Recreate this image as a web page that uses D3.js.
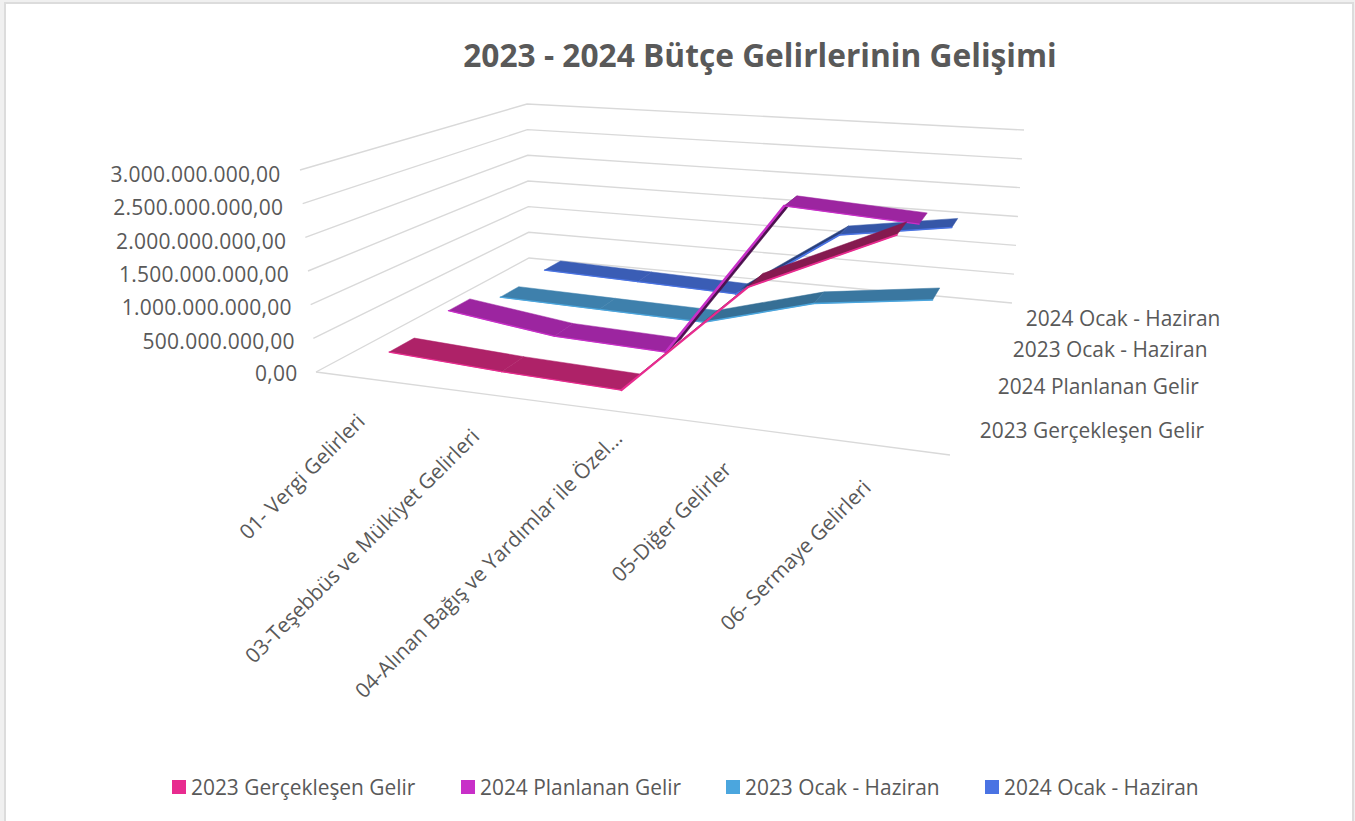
<!DOCTYPE html>
<html><head><meta charset="utf-8">
<script src="https://cdn.jsdelivr.net/npm/d3@7/dist/d3.min.js"></script>
<style>html,body{margin:0;padding:0;background:#fff;overflow:hidden}svg{display:block}text{font-family:"Open Sans",sans-serif;fill:#595959}</style>
</head><body><svg id="c" width="1355" height="821"></svg>
<script>
const chartTitle = "2023 - 2024 Bütçe Gelirlerinin Gelişimi";
const categories = ["01- Vergi Gelirleri","03-Teşebbüs ve Mülkiyet Gelirleri","04-Alınan Bağış ve Yardımlar ile Özel...","05-Diğer Gelirler","06- Sermaye Gelirleri"];
const seriesNames = ["2023 Gerçekleşen Gelir","2024 Planlanan Gelir","2023 Ocak - Haziran","2024 Ocak - Haziran"];
const actual2023 = [235e6,150e6,100e6,1760e6,2670e6];
const planned2024 = [365e6,145e6,95e6,2490e6,2380e6];
const janJun2023 = [113e6,80e6,50e6,537e6,775e6];
const janJun2024 = [147e6,100e6,50e6,1235e6,1510e6];
const seriesValues = [actual2023,planned2024,janJun2023,janJun2024];
const valueTicks = [0,5e8,1e9,1.5e9,2e9,2.5e9,3e9];
const tickLabels = ["0,00","500.000.000,00","1.000.000.000,00","1.500.000.000,00","2.000.000.000,00","2.500.000.000,00","3.000.000.000,00"];
const legendColors = ["#E82B8F","#C82FC8","#4BA6DE","#4A73E3"];
const faceColors = ["#AE2268","#9C25A0","#3E80AC","#3A5DB5"];

const svg = d3.select("#c");
// page frame
svg.append("rect").attr("width",1355).attr("height",821).attr("fill","#f0f0f0");
svg.append("rect").attr("x",5).attr("y",3).attr("width",1348).attr("height",830).attr("fill","#fff").attr("stroke","#dcdcdc").attr("stroke-width",2);

// scales in model space
const xScale = d3.scalePoint(categories,[0,1]).padding(0.5);
const zScale = d3.scalePoint(seriesNames,[0,1]).padding(0.5);
const vScale = d3.scaleLinear([0,3e9],[0,1]);
const ribbonHalf = 0.05;

function homography(p){ // unit square -> quad (u,z): (0,0),(1,0),(1,1),(0,1)
  const [p0,p1,p2,p3]=p;
  const sx=p0[0]-p1[0]+p2[0]-p3[0], sy=p0[1]-p1[1]+p2[1]-p3[1];
  const dx1=p1[0]-p2[0], dx2=p3[0]-p2[0], dy1=p1[1]-p2[1], dy2=p3[1]-p2[1];
  const den=dx1*dy2-dx2*dy1;
  const g=(sx*dy2-dx2*sy)/den, h=(dx1*sy-sx*dy1)/den;
  const a=p1[0]-p0[0]+g*p1[0], b=p3[0]-p0[0]+h*p3[0], c=p0[0];
  const d=p1[1]-p0[1]+g*p1[1], e=p3[1]-p0[1]+h*p3[1], f=p0[1];
  return (u,z)=>{const w=g*u+h*z+1;return [(a*u+b*z+c)/w,(d*u+e*z+f)/w];};
}
const floor = homography([[316,372],[950,455],[1012,303],[529,258]]);
const ceil  = homography([[300,170],[975,228],[1024,130],[527,104]]);
function project(u,z,t){const a=floor(u,z),b=ceil(u,z);return [a[0]+(b[0]-a[0])*t,a[1]+(b[1]-a[1])*t];}
const line = d3.line();
const poly = pts=>line(pts)+"Z";

// gridlines
const grid = svg.append("g").attr("fill","none").attr("stroke","#d9d9d9").attr("stroke-width",1.4);
valueTicks.forEach(v=>{
  const t=vScale(v);
  grid.append("path").attr("d",line([project(0,0,t),project(0,1,t),project(1,1,t)]));
});
grid.append("path").attr("d",line([project(0,0,0),project(1,0,0)]));

// value axis labels
svg.append("g").selectAll("text").data(valueTicks).join("text")
  .attr("x",v=>project(0,0,vScale(v))[0]-18.5-vScale(v)*-(-1)).attr("y",v=>project(0,0,vScale(v))[1]+1+vScale(v)*2+(v>0?1:0))
  .attr("text-anchor","end").attr("dominant-baseline","central").attr("font-size",21)
  .attr("letter-spacing",0.25)
  .text((v,i)=>tickLabels[i]);

// ribbons, back to front
const ribbons = svg.append("g");
d3.range(seriesNames.length-1,-1,-1).forEach(si=>{
  const z=zScale(seriesNames[si]), vals=seriesValues[si];
  const g=ribbons.append("g");
  const z0=z-ribbonHalf, z1=z+ribbonHalf;
  d3.pairs(categories.map((c,i)=>({u:xScale(c),t:vScale(vals[i])}))).forEach(([a,b])=>{
    const rise=Math.max(0,b.t-a.t), k=rise*2.5;
    const col=d3.color(faceColors[si]).darker(k).formatHex();
    if(rise>0.6){
      const dt=0.014;
      g.append("path").attr("fill",col).attr("stroke",col).attr("stroke-width",0.4)
       .attr("d",poly([project(a.u,z0,a.t),project(b.u,z0,b.t),project(b.u+0.003,z0,b.t-dt),project(a.u+0.002,z0,a.t-dt*0.3)]));
    }
    g.append("path").attr("fill",col).attr("stroke",col).attr("stroke-width",0.5).attr("stroke-linejoin","round")
     .attr("d",poly([project(a.u,z0,a.t),project(b.u,z0,b.t),project(b.u,z1,b.t),project(a.u,z1,a.t)]));
    g.append("path").attr("fill","none").attr("stroke",legendColors[si]).attr("stroke-width",1.3+rise*1.5).attr("stroke-linecap","round")
     .attr("d",line([project(a.u,z0,a.t),project(b.u,z0,b.t)]));
  });
});

// series depth labels
svg.append("g").selectAll("text").data(seriesNames).join("text")
  .attr("x",s=>project(1,zScale(s),0)[0]+19.5).attr("y",s=>project(1,zScale(s),0)[1]+0.5)
  .attr("dominant-baseline","central").attr("font-size",20.9).text(s=>s);

// category labels
const labelShift = c=>categories.indexOf(c)===2?[11,24]:[-10,38];
svg.append("g").selectAll("text").data(categories).join("text")
  .attr("transform",c=>{const p=project(xScale(c),0,0),s=labelShift(c);return `translate(${p[0]+s[0]},${p[1]+s[1]}) rotate(-45)`;})
  .attr("text-anchor","end").attr("dominant-baseline","central").attr("font-size",20.8).text(c=>c);

// title
svg.append("text").attr("x",760).attr("y",66.5).attr("text-anchor","middle").attr("font-size",31.7).attr("font-weight",700).text(chartTitle);

// legend
const legendX = d3.scaleOrdinal(seriesNames,[172,461,726,985]);
const leg = svg.append("g").selectAll("g").data(seriesNames).join("g").attr("transform",s=>`translate(${legendX(s)},780)`);
leg.append("rect").attr("width",14).attr("height",14).attr("fill",(s,i)=>legendColors[i]);
leg.append("text").attr("x",19).attr("y",6.5).attr("dominant-baseline","central").attr("font-size",20.9).text(s=>s);
</script></body></html>
